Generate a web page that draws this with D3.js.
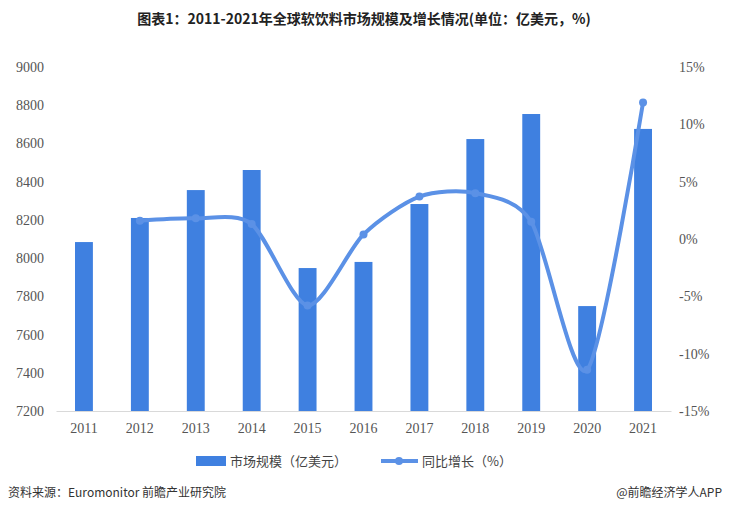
<!DOCTYPE html>
<html><head><meta charset="utf-8">
<script src="https://cdn.jsdelivr.net/npm/d3@7"></script>
<style>body{margin:0;background:#fff;font-family:"Noto Sans CJK SC","Noto Sans",sans-serif}</style>
</head><body><svg id="c" width="729" height="512"></svg>
<script>
const years = ["2011","2012","2013","2014","2015","2016","2017","2018","2019","2020","2021"];
const market = [8084,8210,8356,8461,7948,7980,8283,8623,8754,7749,8676];
const growth = [null,1.6,1.8,1.3,-5.8,0.4,3.7,4.0,1.5,-11.4,11.9];
const leftTicks = [7200,7400,7600,7800,8000,8200,8400,8600,8800,9000];
const rightTicks = [-15,-10,-5,0,5,10,15];

const svg = d3.select("#c");
const barColor = "#3f80e0", lineColor = "#5b91e6";
const x = d3.scaleBand().domain(years).range([56, 671]).paddingInner(0.68).paddingOuter(0.34);
const yL = d3.scaleLinear().domain([7200, 9000]).range([411, 67]);
const yR = d3.scaleLinear().domain([-15, 15]).range([411, 67]);

svg.append("text").attr("x", 364).attr("y", 24).attr("text-anchor", "middle")
  .attr("font-size", 14).attr("font-weight", "bold").attr("fill", "#222")
  .text("图表1：2011-2021年全球软饮料市场规模及增长情况(单位：亿美元，%)");

const axL = svg.append("g").attr("transform", "translate(52,0)")
  .call(d3.axisLeft(yL).tickValues(leftTicks).tickSize(0).tickPadding(8).tickFormat(d => d));
const axR = svg.append("g").attr("transform", "translate(675,0)")
  .call(d3.axisRight(yR).tickValues(rightTicks).tickSize(0).tickPadding(4).tickFormat(d => d + "%"));
const axB = svg.append("g").attr("transform", "translate(0,411)")
  .call(d3.axisBottom(x).tickSize(0).tickPadding(12));
[axL, axR].forEach(a => a.select(".domain").remove());
axB.select(".domain").attr("stroke", "#d9d9d9");
svg.selectAll(".tick text").attr("font-family", "Liberation Serif, serif").attr("font-size", 14).attr("fill", "#555");

svg.selectAll("rect.bar").data(years).join("rect").attr("class", "bar")
  .attr("x", d => x(d)).attr("width", x.bandwidth())
  .attr("y", (d, i) => yL(market[i])).attr("height", (d, i) => 411 - yL(market[i]))
  .attr("fill", barColor);

const pts = years.map((d, i) => [x(d) + x.bandwidth() / 2, growth[i]]).filter(p => p[1] !== null);
const line = d3.line().x(p => p[0]).y(p => yR(p[1])).curve(d3.curveCardinal.tension(0.2));
svg.append("path").attr("d", line(pts)).attr("fill", "none")
  .attr("stroke", lineColor).attr("stroke-width", 4);
svg.selectAll("circle.pt").data(pts).join("circle").attr("class", "pt")
  .attr("cx", p => p[0]).attr("cy", p => yR(p[1])).attr("r", 4).attr("fill", lineColor);

const lg = svg.append("g").attr("font-size", 13).attr("fill", "#444");
lg.append("rect").attr("x", 196).attr("y", 456).attr("width", 30).attr("height", 10).attr("fill", barColor);
lg.append("text").attr("x", 230).attr("y", 466).text("市场规模（亿美元）");
lg.append("line").attr("x1", 381).attr("x2", 418).attr("y1", 461).attr("y2", 461).attr("stroke", lineColor).attr("stroke-width", 4);
lg.append("circle").attr("cx", 399).attr("cy", 461).attr("r", 4).attr("fill", lineColor);
lg.append("text").attr("x", 422).attr("y", 466).text("同比增长（%）");

svg.append("text").attr("x", 8).attr("y", 497).attr("font-size", 12).attr("fill", "#333")
  .text("资料来源：Euromonitor 前瞻产业研究院");
svg.append("text").attr("x", 722).attr("y", 497).attr("text-anchor", "end").attr("font-size", 12).attr("fill", "#333")
  .text("@前瞻经济学人APP");
</script></body></html>
